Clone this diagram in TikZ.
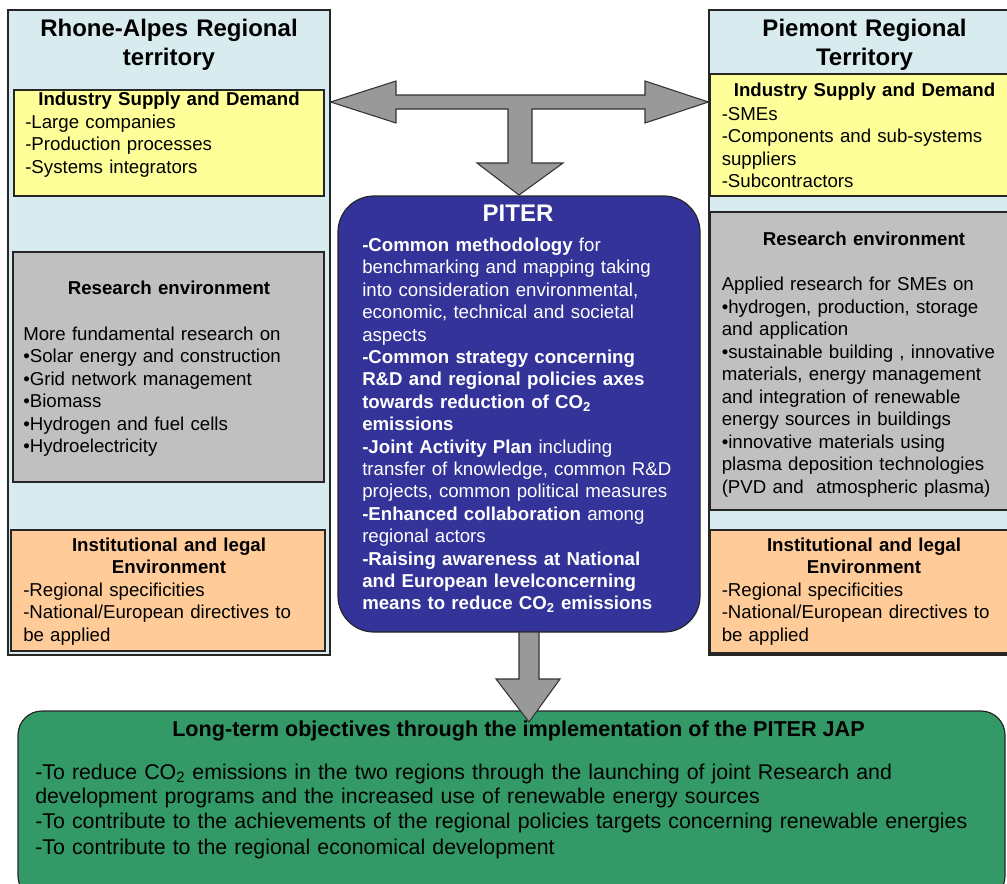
\documentclass[tikz,border=0pt]{standalone}
\usepackage{fontspec}
\setmainfont{Liberation Sans}
\usetikzlibrary{fit}
\definecolor{panelc}{RGB}{216,236,240}
\definecolor{yellowc}{RGB}{255,255,153}
\definecolor{grayc}{RGB}{192,192,192}
\definecolor{orangec}{RGB}{255,204,153}
\definecolor{piterc}{RGB}{51,51,153}
\definecolor{greenc}{RGB}{51,153,102}
\definecolor{arrowc}{RGB}{153,153,153}
\begin{document}
\begin{tikzpicture}[x=0.75pt,y=-0.75pt,
  box/.style={draw=black!85, line width=0.9pt, inner sep=0pt},
  txt/.style={inner sep=0pt, anchor=base west, align=left, text width=240pt,
    font=\fontsize{14}{16.9}\selectfont},
  ttl/.style={inner sep=0pt, anchor=base, align=center, text width=230pt,
    font=\bfseries\fontsize{14}{16.8}\selectfont},
  big/.style={inner sep=0pt, anchor=base, align=center, text width=240pt,
    font=\bfseries\fontsize{18}{21.75}\selectfont},
  gtxt/.style={inner sep=0pt, anchor=base west, align=left, text width=740pt,
    font=\fontsize{16}{18}\selectfont},
  blockarrow/.style={fill=arrowc, draw=black!80, line width=0.8pt, line join=miter}]
\useasboundingbox (0,0) rectangle (1007,883);
\clip (0,0) rectangle (1007,883);

% ---------- left panel ----------
\node[box, fill=panelc, fit={(8,10) (330,655)}] (lpanel) {};
\node[big] (ltitle) at (169,36) {Rhone-Alpes Regional\\territory};
\node[box, fill=yellowc, fit={(14,90) (324,196)}] (lind) {};
\node[ttl] (lindt) at (169,105) {Industry Supply and Demand};
\node[txt] (lindx) at (25,128) {-Large companies\\-Production processes\\-Systems integrators};
\node[box, fill=grayc, fit={(13,252) (324,482)}] (lres) {};
\node[ttl] (lrest) at (169,294) {Research environment};
\node[txt] (lresx) at (23,340) {More fundamental research on\\\textbullet Solar energy and construction\\\textbullet Grid network management\\\textbullet Biomass\\\textbullet Hydrogen and fuel cells\\\textbullet Hydroelectricity};
\node[box, fill=orangec, fit={(11,530) (325,651)}] (linst) {};
\node[ttl] (linstt) at (169,551) {Institutional and legal\\Environment};
\node[txt] (linstx) at (23,596) {-Regional specificities\\-National/European directives to\\be applied};

% ---------- right panel ----------
\node[box, fill=panelc, fit={(709,10) (1015,655)}] (rpanel) {};
\node[big] (rtitle) at (864.5,36) {Piemont Regional\\Territory};
\node[box, fill=yellowc, fit={(710,74) (1015,196)}] (rind) {};
\node[ttl] (rindt) at (864.5,96.5) {Industry Supply and Demand};
\node[txt] (rindx) at (721.5,120) {-SMEs\\-Components and sub-systems\\suppliers\\-Subcontractors};
\node[box, fill=grayc, fit={(710,212) (1015,510)}] (rres) {};
\node[ttl] (rrest) at (864,245) {Research environment};
\node[txt] (rresx) at (721.5,290.5) {Applied research for SMEs on\\\textbullet hydrogen, production, storage\\and application\\\textbullet sustainable building , innovative\\materials, energy management\\and integration of renewable\\energy sources in buildings\\\textbullet innovative materials using\\plasma deposition technologies\\(PVD and~ atmospheric plasma)};
\node[box, fill=orangec, fit={(710,530) (1015,653)}] (rinst) {};
\node[ttl] (rinstt) at (864,551) {Institutional and legal\\Environment};
\node[txt] (rinstx) at (721.5,596) {-Regional specificities\\-National/European directives to\\be applied};

% ---------- PITER ----------
\node[box, fill=piterc, rounded corners=27pt, fit={(338,196) (700,632)}] (piter) {};
\node[big, text=white] (pitert) at (518,221.5) {PITER};
\node[txt, text=white, text width=260pt, font=\fontsize{14}{16.8}\selectfont] (piterx) at (362,251.5)
 {\textbf{-Common methodology} for\\
  benchmarking and mapping taking\\
  into consideration environmental,\\
  economic, technical and societal\\
  aspects\\
  \textbf{-Common strategy concerning}\\
  \textbf{R\&D and regional policies axes}\\
  \textbf{towards reduction of CO\textsubscript{2}}\\
  \textbf{emissions}\\
  \textbf{-Joint Activity Plan} including\\
  transfer of knowledge, common R\&D\\
  projects, common political measures\\
  \textbf{-Enhanced collaboration} among\\
  regional actors\\
  \textbf{-Raising awareness at National}\\
  \textbf{and European levelconcerning}\\
  \textbf{means to reduce CO\textsubscript{2} emissions}};

% ---------- green box ----------
\node[box, fill=greenc, rounded corners=18pt, fit={(18,711) (1005,900)}] (goal) {};
\node[inner sep=0pt, anchor=base, font=\bfseries\fontsize{16.2}{19}\selectfont] (goalt) at (518.5,736.5)
 {Long-term objectives through the implementation of the PITER JAP};
\node[gtxt] (goal1) at (35,779)
 {-To reduce CO\textsubscript{2} emissions in the two regions through the launching of joint Research and\\development programs and the increased use of renewable energy sources};
\node[gtxt] (goal2) at (35,828)
 {-To contribute to the achievements of the regional policies targets concerning renewable energies};
\node[gtxt] (goal3) at (35,854)
 {-To contribute to the regional economical development};

% ---------- block arrows ----------
\draw[blockarrow] (lpanel.east |- 0,102) -- (396,81) -- (396,95) -- (645,95) -- (645,81)
  -- (rpanel.west |- 0,102) -- (645,123) -- (645,109) -- (532,109) -- (532,163) -- (563,163)
  -- (piter.north |- 0,195) -- (477,163) -- (508,163) -- (508,109) -- (396,109) -- (396,123) -- cycle;
\draw[blockarrow] (519,632) -- (539,632) -- (539,679) -- (560,679) -- (529,722) -- (496,679) -- (519,679) -- cycle;
\end{tikzpicture}
\end{document}
